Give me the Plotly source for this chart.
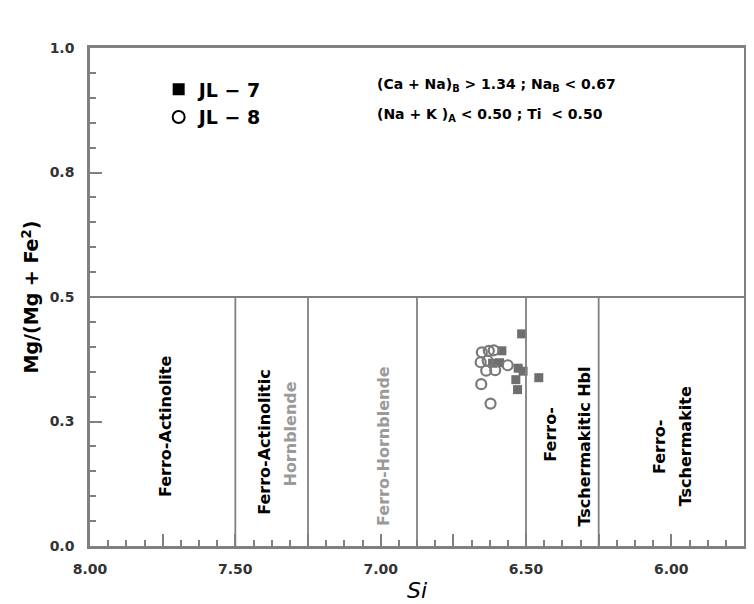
import numpy as np
import plotly.graph_objects as go

# ---- data ----
jl7_si = [6.515, 6.527, 6.510, 6.535, 6.529, 6.456, 6.615, 6.591, 6.583]
jl7_mg = [0.426, 0.357, 0.351, 0.334, 0.314, 0.338, 0.367, 0.368, 0.392]
jl8_si = [6.652, 6.628, 6.611, 6.656, 6.632, 6.637, 6.606, 6.563, 6.654, 6.622]
jl8_mg = [0.389, 0.392, 0.393, 0.369, 0.372, 0.352, 0.353, 0.363, 0.325, 0.286]

field_bounds_si = [7.50, 7.25, 6.875, 6.50, 6.25]
field_top = 0.5

x_tickvals = [8.00, 7.50, 7.00, 6.50, 6.00]
x_ticktext = ["8.00", "7.50", "7.00", "6.50", "6.00"]
x_midticks = [7.75, 7.25, 6.75, 6.25]
y_tickvals = [0.0, 0.25, 0.5, 0.75, 1.0]
y_ticktext = ["0.0", "0.3", "0.5", "0.8", "1.0"]

field_labels = [
    (7.74, 0.24, "Ferro-Actinolite", "black"),
    (7.40, 0.21, "Ferro-Actinolitic", "black"),
    (7.31, 0.225, "Hornblende", "#9a9a9a"),
    (6.99, 0.20, "Ferro-Hornblende", "#9a9a9a"),
    (6.415, 0.225, "Ferro-", "black"),
    (6.30, 0.20, "Tschermakitic Hbl", "black"),
    (6.04, 0.20, "Ferro-", "black"),
    (5.95, 0.20, "Tschermakite", "black"),
]

FONT = "DejaVu Sans"
GRAY = "#808080"

fig = go.Figure()

# data
fig.add_trace(go.Scatter(x=jl7_si, y=jl7_mg, mode="markers", showlegend=False,
                         marker=dict(symbol="square", size=9, color="#6e6e6e")))
fig.add_trace(go.Scatter(x=jl8_si, y=jl8_mg, mode="markers", showlegend=False,
                         marker=dict(symbol="circle-open", size=10, color="#7a7a7a",
                                     line=dict(width=2.2))))
# legend entries
fig.add_trace(go.Scatter(x=[None], y=[None], mode="markers", name="JL − 7",
                         marker=dict(symbol="square", size=10, color="black")))
fig.add_trace(go.Scatter(x=[None], y=[None], mode="markers", name="JL − 8",
                         marker=dict(symbol="circle-open", size=10, color="black",
                                     line=dict(width=2.5))))
# carrier for the overlay axis holding the tall unlabelled ticks
fig.add_trace(go.Scatter(x=[None], y=[None], xaxis="x2", yaxis="y",
                         showlegend=False, hoverinfo="skip"))

# field boundaries
fig.add_shape(type="line", x0=8.0, x1=5.75, y0=field_top, y1=field_top,
              xref="x", yref="y", line=dict(color=GRAY, width=2))
for xb in field_bounds_si:
    fig.add_shape(type="line", x0=xb, x1=xb, y0=0, y1=field_top,
                  xref="x", yref="y", line=dict(color=GRAY, width=1.8))

for x, y, txt, col in field_labels:
    fig.add_annotation(x=x, y=y, text=txt, showarrow=False,
                       textangle=-90, xref="x", yref="y",
                       font=dict(family=FONT, size=16, color=col, weight="bold"))

fig.add_annotation(x=7.02, y=0.925, xref="x", yref="y", xanchor="left", showarrow=False,
                   text="(Ca + Na)<sub>B</sub> > 1.34 ; Na<sub>B</sub> < 0.67",
                   font=dict(family=FONT, size=14, color="black", weight="bold"))
fig.add_annotation(x=7.02, y=0.866, xref="x", yref="y", xanchor="left", showarrow=False,
                   text="(Na + K )<sub>A</sub> < 0.50 ; Ti  < 0.50",
                   font=dict(family=FONT, size=14, color="black", weight="bold"))

tickfont = dict(family=FONT, size=14, color="#333333", weight="bold")
axis_common = dict(showline=True, linecolor=GRAY, linewidth=2.5, mirror=True,
                   showgrid=False, zeroline=False, ticks="inside", tickcolor=GRAY,
                   tickwidth=1.5, ticklen=12, tickfont=tickfont)

fig.update_layout(
    xaxis=dict(range=[8.0, 5.75], tickmode="array", tickvals=x_tickvals,
               ticktext=x_ticktext, ticklabelstandoff=8,
               minor=dict(tickmode="array", tickvals=list(np.arange(5.75, 8.0001, 0.0625)),
                          ticks="inside", ticklen=6, tickcolor=GRAY, tickwidth=1.5),
               title=dict(text="<i>Si</i>", font=dict(family=FONT, size=22, color="black"),
                          standoff=8),
               **axis_common),
    xaxis2=dict(range=[8.0, 5.75], overlaying="x", anchor="y", side="bottom",
                tickmode="array", tickvals=x_midticks, showticklabels=False,
                ticks="inside", ticklen=12, tickcolor=GRAY, tickwidth=1.5,
                showline=False, showgrid=False, zeroline=False),
    yaxis=dict(range=[0, 1.0], tickmode="array", tickvals=y_tickvals,
               ticktext=y_ticktext, ticklabelstandoff=10,
               minor=dict(tickmode="array", tickvals=list(np.arange(0, 1.0001, 0.05)),
                          ticks="inside", ticklen=6, tickcolor=GRAY, tickwidth=1.5),
               title=dict(text="Mg/(Mg + Fe<sup>2</sup>)",
                          font=dict(family=FONT, size=19, color="black", weight="bold"),
                          standoff=6),
               **axis_common),
    width=754, height=604,
    margin=dict(l=82, r=18, t=40, b=66),
    paper_bgcolor="white", plot_bgcolor="white",
    legend=dict(x=0.105, y=0.955, xanchor="left", yanchor="top",
                bgcolor="rgba(0,0,0,0)", tracegroupgap=0, itemsizing="constant",
                font=dict(family=FONT, size=19, color="black", weight="bold")),
)

fig.write_html("out.html")
